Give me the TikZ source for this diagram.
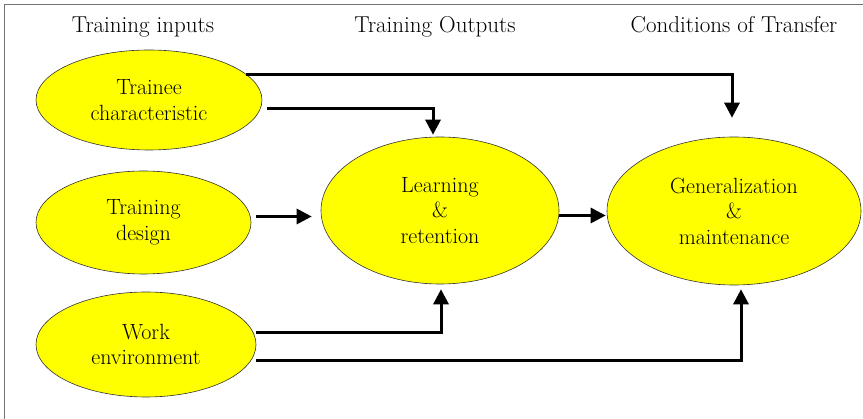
\documentclass[tikz,border=0pt]{standalone}
\usetikzlibrary{shapes.geometric,arrows.meta}

\definecolor{stagefill}{RGB}{255,255,0}
\tikzset{
    stage/.style={ellipse, draw=black!80, line width=0.6pt, fill=stagefill, inner sep=0pt,
        align=center, font=\fontsize{22}{25.5}\selectfont},
    heading/.style={anchor=base, font=\fontsize{23}{25}\selectfont},
    flow/.style={line width=3pt, -{Triangle[length=15pt,width=15pt]}},
}

\begin{document}
\begin{tikzpicture}[x=1pt,y=-1pt]
    \useasboundingbox (0,0) rectangle (863,419);
    \draw[black!55, line width=1pt] (4,419) -- (4,5) -- (863,5);

    % column headings
    \node[heading] (hin) at (143,33) {Training inputs};
    \node[heading] (hout) at (435,33) {Training Outputs};
    \node[heading] (htrans) at (734,33) {Conditions of Transfer};

    % stages
    \node[stage, minimum width=226pt, minimum height=100pt] (trainee) at (149,100) {Trainee\\characteristic};
    \node[stage, minimum width=215pt, minimum height=103pt] (design) at (143.5,222.5) {Training\\design};
    \node[stage, minimum width=220pt, minimum height=105pt] (work) at (146,344.5) {Work\\environment};
    \node[stage, minimum width=238pt, minimum height=147pt] (learn) at (440,210.5) {Learning\\\&\\retention};
    \node[stage, minimum width=254pt, minimum height=148pt] (general) at (734,211) {Generalization\\\&\\maintenance};

    % links
    \draw[flow, shorten >=19pt] (trainee.15) -| ([xshift=-2pt]general.north);
    \draw[flow, shorten >=2pt] ([shift={(5pt,-9pt)}]trainee.east) -| ([xshift=-7pt]learn.north);
    \draw[flow, shorten <=5pt, shorten >=9pt] ([yshift=6pt]design.east) -- ([yshift=6pt]design.east -| learn.west);
    \draw[flow, shorten >=1pt] ([yshift=-5pt]learn.east) -- ([yshift=-5pt]learn.east -| general.west);
    \draw[flow, shorten >=5pt] ([yshift=12pt]work.east) -| ([xshift=1pt]learn.south);
    \draw[flow, shorten >=4pt] ([yshift=-16pt]work.east) -| ([xshift=7pt]general.south);
\end{tikzpicture}
\end{document}
